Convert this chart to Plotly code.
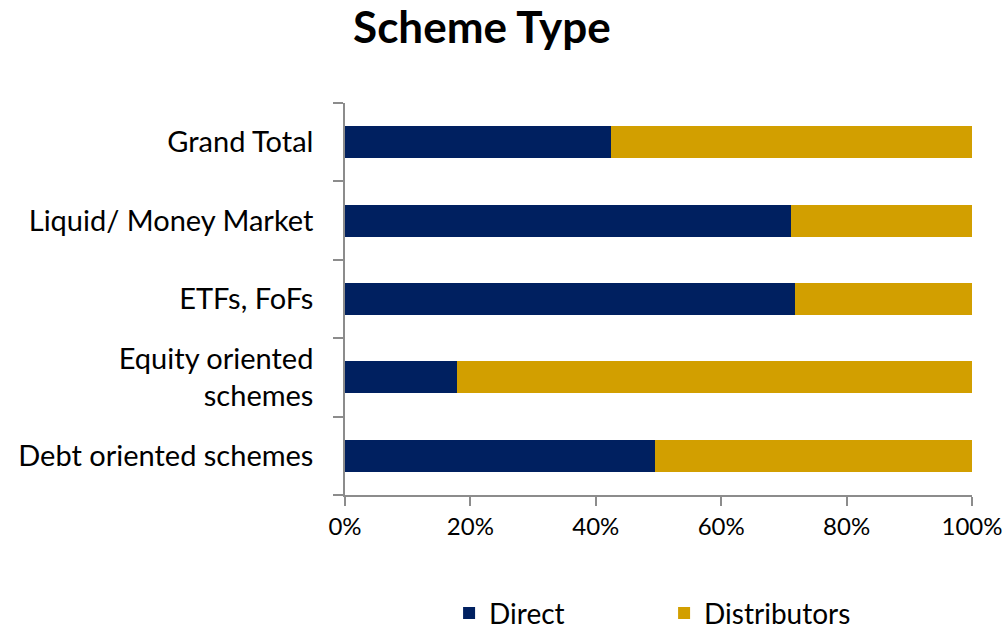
import plotly.graph_objects as go

categories = ["Debt oriented schemes", "Equity oriented<br>schemes", "ETFs, FoFs",
              "Liquid/ Money Market", "Grand Total"]
direct = [49.4, 17.8, 71.7, 71.2, 42.4]
distributors = [round(100 - v, 1) for v in direct]
x_ticks = [0, 20, 40, 60, 80, 100]
x_tick_labels = ["0%", "20%", "40%", "60%", "80%", "100%"]

FONT = "Lato"

fig = go.Figure()
fig.add_trace(go.Bar(y=categories, x=direct, name="Direct", orientation="h",
                     marker=dict(color="#002060", line=dict(width=0)), width=0.41))
fig.add_trace(go.Bar(y=categories, x=distributors, name="Distributors", orientation="h",
                     marker=dict(color="#D29F00", line=dict(width=0)), width=0.41))

fig.update_layout(
    barmode="stack",
    width=1004, height=630,
    margin=dict(l=345, r=32, t=103, b=135, autoexpand=False),
    paper_bgcolor="white", plot_bgcolor="white",
    font=dict(family=FONT, size=29, color="black"),
    title=dict(text="<b>Scheme Type</b>", x=0.48, xanchor="center", y=0.957, yanchor="middle",
               font=dict(family=FONT, size=44, color="black")),
    showlegend=True,
    legend=dict(orientation="h", x=0.166, xanchor="left", y=-0.302, yanchor="middle",
                font=dict(family=FONT, size=28), entrywidth=170, traceorder="normal"),
    bargap=0.59,
)
fig.update_xaxes(range=[0, 100], tickvals=x_ticks, ticktext=x_tick_labels, automargin=False,
                 showgrid=False, zeroline=False, showline=True, linecolor="#8c8c8c", linewidth=1.5,
                 ticks="outside", ticklen=9, tickcolor="#8c8c8c", tickwidth=1.5,
                 tickfont=dict(family=FONT, size=24))
fig.update_yaxes(categoryorder="array", categoryarray=categories, automargin=False,
                 showgrid=False, zeroline=False, showline=True, linecolor="#8c8c8c", linewidth=1.5,
                 ticks="outside", ticklen=10, tickcolor="#8c8c8c", tickwidth=1.5,
                 tickson="boundaries", ticklabelstandoff=24,
                 tickfont=dict(family=FONT, size=29))

fig.write_html("out.html", config={"displayModeBar": False},
               post_script="document.body.style.margin='0px';document.body.style.overflow='hidden';")
